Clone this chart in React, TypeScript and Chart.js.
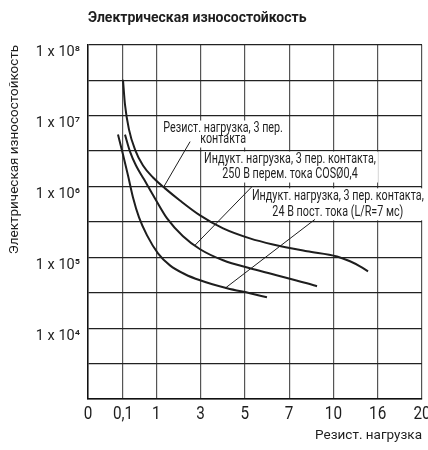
import React, { useEffect, useRef } from 'react';
import { Chart, LinearScale, registerables } from 'chart.js';

Chart.register(...registerables);

// ---------- text ----------
const chartTitle = 'Электрическая износостойкость';
const yAxisTitle = 'Электрическая износостойкость';
const xAxisTitle = 'Резист. нагрузка';

// ---------- axes ----------
const xTickValues = [0, 0.1, 1, 3, 5, 7, 10, 16, 20];
const xTickLabels = ['0', '0,1', '1', '3', '5', '7', '10', '16', '20'];
const yMin = 1e3;
const yMax = 1e8;
const yGridExponents = [3, 3.5, 4, 4.5, 5, 5.5, 6, 6.5, 7, 7.5, 8];
const yLabelExponents = [4, 5, 6, 7, 8];

// ---------- series ----------
const resistX = [0.1, 0.154, 0.263, 0.425, 0.642, 0.913, 1.4, 2.07, 2.98, 4.02, 5.23, 6.27, 8.21, 10.49, 12.25, 13.6, 14.69];
const resistY = [3.21e7, 1.43e7, 6.35e6, 3.32e6, 1.98e6, 1.34e6, 9.4e5, 6.35e5, 3.91e5, 2.56e5, 1.85e5, 1.52e5, 1.22e5, 1.03e5, 8.8e4, 7.47e4, 6.35e4];

const acX = [0.154, 0.29, 0.452, 0.669, 0.967, 1.49, 2.21, 2.98, 4.02, 5.23, 6.27, 8.21, 8.89];
const acY = [5.4e6, 3.11e6, 1.98e6, 1.26e6, 6.78e5, 3.54e5, 1.98e5, 1.3e5, 9.08e4, 7.0e4, 5.77e4, 4.3e4, 3.91e4];

const dcX = [0.0857, 0.1, 0.236, 0.371, 0.534, 0.751, 1.08, 1.62, 2.3, 2.98, 4.2, 5.23, 6.0];
const dcY = [5.4e6, 2.83e6, 1.43e6, 7.0e5, 3.66e5, 2.04e5, 1.14e5, 7.7e4, 5.77e4, 4.74e4, 3.66e4, 3.11e4, 2.73e4];

// leader lines (label -> curve)
const leaderResistX = [2.53, 1.35];
const leaderResistY = [4.3e6, 1.0e6];
const leaderAcX = [5.33, 2.75];
const leaderAcY = [1.0e6, 1.48e5];
const leaderDcX = [8.75, 4.11];
const leaderDcY = [3.43e5, 3.66e4];

// annotation texts and anchors (data units, centre of the text block)
const noteResistLines = ['Резист. нагрузка, 3 пер.', 'контакта'];
const noteResistAt = [4.02, 5.5e6];
const noteAcLines = ['Индукт. нагрузка, 3 пер. контакта,', '250 В перем. тока COSØ0,4'];
const noteAcAt = [7.06, 1.88e6];
const noteDcLines = ['Индукт. нагрузка, 3 пер. контакта,', '24 В пост. тока (L/R=7 мс)'];
const noteDcAt = [10.6, 5.6e5];

// ---------- style ----------
const FONT = "Roboto, 'DejaVu Sans', sans-serif";
const INK = '#1e1e1e';
const xSlotWidths = [0.79, 0.75, 1, 1, 1, 1, 1, 1];
const X_TICK_SIZE = 18;
const X_TICK_CONDENSE = 0.85;
const NOTE_SIZE = 14;
const NOTE_CONDENSE = 0.77;

const slotStarts: number[] = [0];
xSlotWidths.forEach((w, i) => slotStarts.push(slotStarts[i] + w));
const slotTotal = slotStarts[slotStarts.length - 1];

function valueToSlot(v: number): number {
  const n = xTickValues.length;
  for (let i = 0; i < n - 1; i++) {
    const a = xTickValues[i];
    const b = xTickValues[i + 1];
    if (v <= b || i === n - 2) return slotStarts[i] + xSlotWidths[i] * (v - a) / (b - a);
  }
  return slotTotal;
}
function slotToValue(s: number): number {
  const n = xTickValues.length;
  for (let i = 0; i < n - 1; i++) {
    if (s <= slotStarts[i + 1] || i === n - 2) {
      const a = xTickValues[i];
      const b = xTickValues[i + 1];
      return a + (b - a) * (s - slotStarts[i]) / xSlotWidths[i];
    }
  }
  return xTickValues[n - 1];
}

class SlotScale extends LinearScale {
  static id = 'slot';
  static defaults = {};
  determineDataLimits() {
    (this as any).min = 0;
    (this as any).max = slotTotal;
  }
  buildTicks() {
    return xTickValues.map((v) => ({ value: v }));
  }
  getPixelForValue(value: number) {
    return super.getPixelForValue(valueToSlot(value));
  }
  getValueForPixel(pixel: number) {
    return slotToValue(super.getValueForPixel(pixel) as number);
  }
}
Chart.register(SlotScale as any);

const SUP: Record<string, string> = { '0': '⁰', '1': '¹', '2': '²', '3': '³', '4': '⁴', '5': '⁵', '6': '⁶', '7': '⁷', '8': '⁸', '9': '⁹' };

function pts(xs: number[], ys: number[]) {
  return xs.map((x, i) => ({ x, y: ys[i] }));
}

const notes = [
  { lines: noteResistLines, at: noteResistAt, gap: 11 },
  { lines: noteAcLines, at: noteAcAt, gap: 15 },
  { lines: noteDcLines, at: noteDcAt, gap: 16 },
];

const noteFont = `${NOTE_SIZE}px ${FONT}`;

const notesPlugin = {
  id: 'notes',
  beforeDatasetsDraw(chart: any) {
    const { ctx, scales } = chart;
    ctx.save();
    ctx.font = noteFont;
    ctx.fillStyle = '#ffffff';
    notes.forEach((n) => {
      const cx = scales.x.getPixelForValue(n.at[0]);
      const cy = scales.y.getPixelForValue(n.at[1]);
      const w = Math.max(...n.lines.map((l) => ctx.measureText(l).width)) * NOTE_CONDENSE;
      const h = (n.lines.length - 1) * n.gap + NOTE_SIZE + 2;
      ctx.fillRect(cx - w / 2 - 2, cy - h / 2, w + 4, h);
    });
    ctx.restore();
  },
  afterDatasetsDraw(chart: any) {
    const { ctx, scales } = chart;
    ctx.save();
    ctx.font = noteFont;
    ctx.fillStyle = INK;
    ctx.textAlign = 'center';
    ctx.textBaseline = 'middle';
    notes.forEach((n) => {
      const cx = scales.x.getPixelForValue(n.at[0]);
      const cy = scales.y.getPixelForValue(n.at[1]);
      n.lines.forEach((l, i) => {
        ctx.save();
        ctx.translate(cx, cy + (i - (n.lines.length - 1) / 2) * n.gap);
        ctx.scale(NOTE_CONDENSE, 1);
        ctx.fillText(l, 0, 0);
        ctx.restore();
      });
    });
    ctx.restore();
  },
};

export default function App() {
  const ref = useRef<HTMLCanvasElement>(null);
  useEffect(() => {
    document.body.style.margin = '0';
    const canvas = ref.current!;
    const ctx = canvas.getContext('2d')!;
    // narrow glyphs for the x tick labels (condensed type as in the original)
    const rawFill = ctx.fillText.bind(ctx);
    (ctx as any).fillText = (text: string, x: number, y: number) => {
      if (ctx.font.indexOf(`${X_TICK_SIZE}px`) === -1) {
        rawFill(text, x, y);
        return;
      }
      ctx.save();
      ctx.translate(x, y);
      ctx.scale(X_TICK_CONDENSE, 1);
      rawFill(text, 0, 0);
      ctx.restore();
    };
    const curve = {
      borderColor: INK,
      borderWidth: 2,
      pointRadius: 0,
      cubicInterpolationMode: 'monotone' as const,
      fill: false,
    };
    const leader = { borderColor: INK, borderWidth: 1, pointRadius: 0, tension: 0, fill: false };
    const chart = new Chart(ctx, {
      type: 'line',
      data: {
        datasets: [
          { label: 'Резист. нагрузка, 3 пер. контакта', data: pts(resistX, resistY), ...curve },
          { label: 'Индукт. нагрузка, 250 В перем. тока', data: pts(acX, acY), ...curve },
          { label: 'Индукт. нагрузка, 24 В пост. тока', data: pts(dcX, dcY), ...curve },
          { label: 'l1', data: pts(leaderResistX, leaderResistY), ...leader },
          { label: 'l2', data: pts(leaderAcX, leaderAcY), ...leader },
          { label: 'l3', data: pts(leaderDcX, leaderDcY), ...leader },
        ] as any,
      },
      options: {
        animation: false,
        responsive: false,
        events: [],
        layout: { padding: { left: 0, right: 6, top: 0, bottom: 0 } },
        plugins: {
          legend: { display: false },
          tooltip: { enabled: false },
          title: {
            display: true,
            text: chartTitle,
            align: 'start',
            fullSize: false,
            color: INK,
            font: { family: FONT, size: 14, weight: 'bold' },
            padding: { top: 10, bottom: 18 },
          },
        },
        scales: {
          x: {
            type: 'slot' as any,
            position: 'bottom',
            afterFit: (s: any) => {
              s.height = 51;
              s.paddingLeft = 0;
              s.paddingRight = 0;
            },
            grid: { color: '#555', lineWidth: 1.2, drawTicks: false },
            border: { color: '#111', width: 1.5 },
            ticks: {
              autoSkip: false,
              maxRotation: 0,
              padding: 5,
              color: INK,
              font: { family: FONT, size: X_TICK_SIZE },
              callback: (_v: any, i: number) => xTickLabels[i],
            },
            title: {
              display: true,
              text: xAxisTitle,
              align: 'end',
              color: INK,
              font: { family: FONT, size: 13.5 },
              padding: { top: 0, bottom: 6 },
            },
          } as any,
          y: {
            type: 'logarithmic',
            min: yMin,
            max: yMax,
            afterFit: (s: any) => {
              s.width = 88;
              s.paddingTop = 0;
              s.paddingBottom = 0;
            },
            afterBuildTicks: (s: any) => {
              s.ticks = yGridExponents.map((e) => ({ value: Math.pow(10, e) }));
            },
            grid: { color: '#222', lineWidth: 1.2, drawTicks: false },
            border: { color: '#111', width: 1.5 },
            ticks: {
              autoSkip: false,
              padding: 8,
              labelOffset: 8,
              color: INK,
              font: { family: FONT, size: 14.5 },
              callback: (v: any) => {
                const e = Math.round(Math.log10(Number(v)) * 2) / 2;
                if (!yLabelExponents.includes(e)) return '';
                return '1 x 10' + String(e).split('').map((c) => SUP[c]).join('');
              },
            },
            title: {
              display: true,
              text: yAxisTitle,
              align: 'end',
              color: INK,
              font: { family: FONT, size: 13.5 },
              padding: { top: 7, bottom: 0 },
            },
          } as any,
        },
      },
      plugins: [notesPlugin],
    });
    return () => chart.destroy();
  }, []);
  return (
    <div style={{ width: 428, height: 450 }}>
      <canvas ref={ref} width={428} height={450} style={{ display: 'block' }} />
    </div>
  );
}
